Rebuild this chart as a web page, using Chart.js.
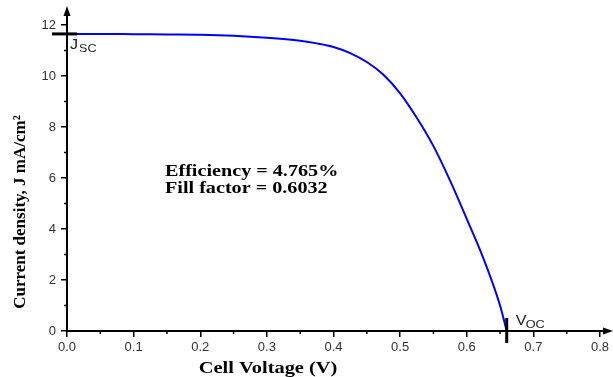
<!DOCTYPE html>
<html>
<head>
<meta charset="utf-8">
<script src="https://cdn.jsdelivr.net/npm/chart.js@4.4.1/dist/chart.umd.min.js"></script>
<style>
  html, body { margin: 0; padding: 0; background: #fff; }
  #wrap { width: 613px; height: 377px; }
</style>
</head>
<body>
<div id="wrap"><canvas id="ivChart"></canvas></div>
<script>
// J-V curve
const voltage = [0, 0.05, 0.1, 0.15, 0.2, 0.25, 0.3, 0.35, 0.375, 0.4, 0.425, 0.45, 0.475, 0.5, 0.525, 0.55, 0.575, 0.6, 0.625, 0.65, 0.66];
const current = [11.65, 11.65, 11.64, 11.63, 11.62, 11.58, 11.5, 11.38, 11.28, 11.14, 10.9, 10.55, 10.05, 9.32, 8.36, 7.25, 5.9, 4.4, 2.85, 1.0, 0];
const xTicks = [0, 0.1, 0.2, 0.3, 0.4, 0.5, 0.6, 0.7, 0.8];
const yTicks = [0, 2, 4, 6, 8, 10, 12];
const jsc = 11.65;
const voc = 0.66;
const xTitle = 'Cell Voltage (V)';
const yTitle = 'Current density, J mA/cm²';
const notes = ['Efficiency = 4.765%', 'Fill factor = 0.6032'];

const points = voltage.map((v, i) => ({ x: v, y: current[i] }));
const serif = '"Liberation Serif", "Times New Roman", serif';
const sans = '"Liberation Sans", Arial, sans-serif';

// text drawn a bit wider, like the source picture
function wideText(c, txt, x, y, sx) {
  c.save();
  c.translate(x, y);
  c.scale(sx, 1);
  c.fillText(txt, 0, 0);
  c.restore();
}

// axis arrows, minor ticks, Jsc / Voc markers, titles and the text box
const decor = {
  id: 'decor',
  afterDraw(chart) {
    const c = chart.ctx;
    const xs = chart.scales.x, ys = chart.scales.y;
    const a = chart.chartArea;
    c.save();
    c.strokeStyle = '#000';
    c.fillStyle = '#000';
    c.lineWidth = 2;
    c.beginPath();
    c.moveTo(a.left, a.bottom); c.lineTo(a.left, a.top - 12);
    c.moveTo(a.left, a.bottom); c.lineTo(a.right + 10, a.bottom);
    c.stroke();
    c.beginPath();
    c.moveTo(a.left, a.top - 19); c.lineTo(a.left - 3.5, a.top - 9); c.lineTo(a.left + 3.5, a.top - 9); c.closePath();
    c.fill();
    c.beginPath();
    c.moveTo(a.right + 13, a.bottom); c.lineTo(a.right + 3, a.bottom - 3.5); c.lineTo(a.right + 3, a.bottom + 3.5); c.closePath();
    c.fill();
    // minor ticks
    c.lineWidth = 1.5;
    c.beginPath();
    for (let i = 0; i < xTicks.length - 1; i++) {
      const px = xs.getPixelForValue((xTicks[i] + xTicks[i + 1]) / 2);
      c.moveTo(px, a.bottom); c.lineTo(px, a.bottom + 3);
    }
    for (let i = 0; i < yTicks.length - 1; i++) {
      const py = ys.getPixelForValue((yTicks[i] + yTicks[i + 1]) / 2);
      c.moveTo(a.left, py); c.lineTo(a.left - 3, py);
    }
    c.stroke();
    // Jsc marker
    const jy = ys.getPixelForValue(jsc);
    c.lineWidth = 3;
    c.beginPath();
    c.moveTo(a.left - 15, jy); c.lineTo(a.left + 10, jy);
    c.stroke();
    // Voc marker
    const vx = xs.getPixelForValue(voc);
    c.beginPath();
    c.moveTo(vx, a.bottom - 13); c.lineTo(vx, a.bottom + 12);
    c.stroke();
    // labels with subscripts
    c.fillStyle = '#222';
    c.textBaseline = 'alphabetic';
    c.textAlign = 'left';
    c.font = '14px ' + sans;
    wideText(c, 'J', a.left + 3, jy + 15, 1.15);
    c.font = '11px ' + sans;
    wideText(c, 'SC', a.left + 12, jy + 18, 1.15);
    c.font = '14px ' + sans;
    wideText(c, 'V', vx + 9, a.bottom - 6, 1.15);
    c.font = '11px ' + sans;
    wideText(c, 'OC', vx + 19, a.bottom - 3, 1.15);
    // efficiency text
    c.fillStyle = '#000';
    c.font = 'bold 16px ' + serif;
    c.textBaseline = 'middle';
    wideText(c, notes[0], 165, 172, 1.26);
    wideText(c, notes[1], 165, 189, 1.26);
    // axis titles
    c.font = 'bold 17px ' + serif;
    c.textAlign = 'center';
    wideText(c, xTitle, 268, 369, 1.2);
    c.save();
    c.translate(21, 212);
    c.rotate(-Math.PI / 2);
    c.fillText(yTitle, 0, 0);
    c.restore();
    c.restore();
  }
};

new Chart(document.getElementById('ivChart'), {
  type: 'scatter',
  data: {
    datasets: [{
      data: points,
      showLine: true,
      borderColor: '#0000ff',
      backgroundColor: '#0000ff',
      borderWidth: 2,
      pointRadius: 0,
      cubicInterpolationMode: 'monotone',
    }]
  },
  options: {
    responsive: true,
    maintainAspectRatio: false,
    animation: false,
    layout: { padding: { top: 25, right: 13, left: 0, bottom: 0 } },
    plugins: {
      legend: { display: false },
      tooltip: { enabled: false },
    },
    scales: {
      x: {
        type: 'linear',
        min: 0,
        max: 0.8,
        afterFit: (s) => { s.height = 46; },
        afterBuildTicks: (s) => { s.ticks = xTicks.map(v => ({ value: v })); },
        border: { display: true, color: '#000', width: 2 },
        grid: { drawOnChartArea: false, drawTicks: true, tickLength: 6, color: '#000', lineWidth: 1.5 },
        ticks: {
          color: '#333',
          padding: 3,
          maxRotation: 0,
          font: { family: sans, size: 13 },
          callback: (v) => v.toFixed(1),
        },
      },
      y: {
        type: 'linear',
        min: 0,
        max: 12,
        afterFit: (s) => { s.width = 67; },
        afterBuildTicks: (s) => { s.ticks = yTicks.map(v => ({ value: v })); },
        border: { display: true, color: '#000', width: 2 },
        grid: { drawOnChartArea: false, drawTicks: true, tickLength: 6, color: '#000', lineWidth: 1.5 },
        ticks: {
          color: '#333',
          padding: 5,
          font: { family: sans, size: 13 },
        },
      },
    },
  },
  plugins: [decor],
});
</script>
</body>
</html>
